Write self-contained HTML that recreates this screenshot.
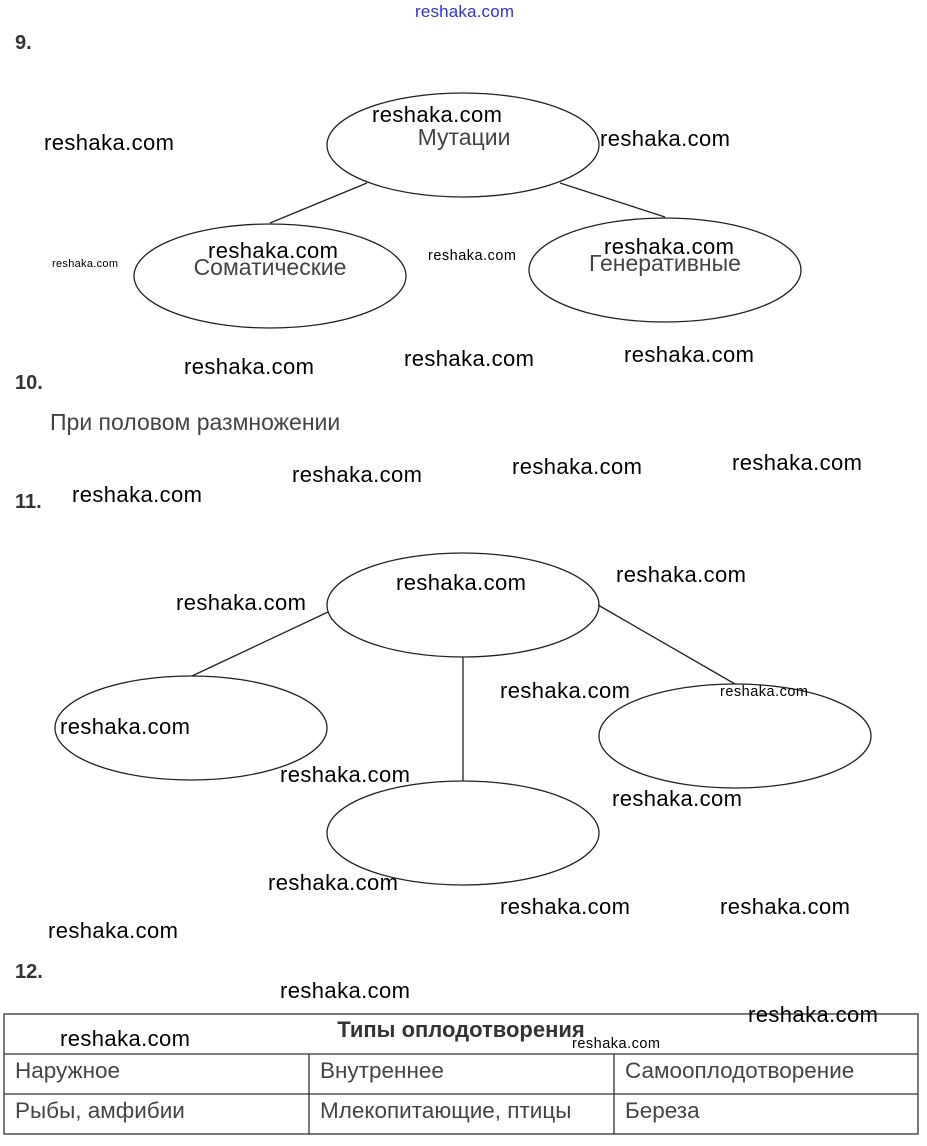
<!DOCTYPE html>
<html><head><meta charset="utf-8"><style>
body{margin:0;background:#fff}
svg{display:block}
.w{font-family:"Liberation Sans",sans-serif;font-size:22px;fill:#000}
.s{font-family:"Liberation Sans",sans-serif;fill:#000}
.g{font-family:"Liberation Sans",sans-serif;font-size:23px;fill:#444}
.t{font-family:"Liberation Sans",sans-serif;font-size:22.5px;fill:#444}
.h{font-family:"Liberation Sans",sans-serif;font-size:20px;font-weight:bold;fill:#333}
</style></head><body>
<svg width="927" height="1146" viewBox="0 0 927 1146" xmlns="http://www.w3.org/2000/svg">
<text x="415" y="17" font-family="Liberation Sans,sans-serif" font-size="17" fill="#3333cc" textLength="99">reshaka.com</text>
<text class="h" x="15" y="49">9.</text>
<text class="h" x="15" y="389">10.</text>
<text class="h" x="15" y="508">11.</text>
<text class="h" x="15" y="978">12.</text>
<g fill="none" stroke="#222" stroke-width="1.3">
<ellipse cx="463" cy="145" rx="136" ry="52"/>
<ellipse cx="270" cy="276" rx="136" ry="52"/>
<ellipse cx="665" cy="270" rx="136" ry="52"/>
<line x1="367" y1="183" x2="270" y2="223"/>
<line x1="560" y1="183" x2="665" y2="217"/>
<ellipse cx="463" cy="605" rx="136" ry="52"/>
<ellipse cx="191" cy="728" rx="136" ry="52"/>
<ellipse cx="735" cy="736" rx="136" ry="52"/>
<ellipse cx="463" cy="833" rx="136" ry="52"/>
<line x1="328" y1="612" x2="192" y2="676"/>
<line x1="598" y1="605" x2="735" y2="684"/>
<line x1="463" y1="657" x2="463" y2="781"/>
</g>
<text class="g" x="464" y="145" text-anchor="middle">Мутации</text>
<text class="g" x="270" y="275" text-anchor="middle">Соматические</text>
<text class="g" x="665" y="271" text-anchor="middle">Генеративные</text>
<text class="g" x="50" y="430">При половом размножении</text>
<g stroke="#333" stroke-width="1.3" fill="none">
<rect x="4" y="1014" width="914" height="120"/>
<line x1="4" y1="1054" x2="918" y2="1054"/>
<line x1="4" y1="1094" x2="918" y2="1094"/>
<line x1="309" y1="1054" x2="309" y2="1134"/>
<line x1="614" y1="1054" x2="614" y2="1134"/>
</g>
<text x="461" y="1037" text-anchor="middle" font-family="Liberation Sans,sans-serif" font-size="22" font-weight="bold" fill="#333">Типы оплодотворения</text>
<text class="t" x="15" y="1078">Наружное</text>
<text class="t" x="320" y="1078">Внутреннее</text>
<text class="t" x="625" y="1078">Самооплодотворение</text>
<text class="t" x="15" y="1118">Рыбы, амфибии</text>
<text class="t" x="320" y="1118">Млекопитающие, птицы</text>
<text class="t" x="625" y="1118">Береза</text>
<g class="w">
<text class="w" x="44" y="150" textLength="130">reshaka.com</text>
<text class="w" x="600" y="146" textLength="130">reshaka.com</text>
<text class="w" x="372" y="122" textLength="130">reshaka.com</text>
<text class="w" x="208" y="258" textLength="130">reshaka.com</text>
<text class="w" x="604" y="254" textLength="130">reshaka.com</text>
<text class="w" x="184" y="374" textLength="130">reshaka.com</text>
<text class="w" x="404" y="366" textLength="130">reshaka.com</text>
<text class="w" x="624" y="362" textLength="130">reshaka.com</text>
<text class="w" x="292" y="482" textLength="130">reshaka.com</text>
<text class="w" x="512" y="474" textLength="130">reshaka.com</text>
<text class="w" x="732" y="470" textLength="130">reshaka.com</text>
<text class="w" x="72" y="502" textLength="130">reshaka.com</text>
<text class="w" x="396" y="590" textLength="130">reshaka.com</text>
<text class="w" x="616" y="582" textLength="130">reshaka.com</text>
<text class="w" x="176" y="610" textLength="130">reshaka.com</text>
<text class="w" x="500" y="698" textLength="130">reshaka.com</text>
<text class="w" x="60" y="734" textLength="130">reshaka.com</text>
<text class="w" x="280" y="782" textLength="130">reshaka.com</text>
<text class="w" x="612" y="806" textLength="130">reshaka.com</text>
<text class="w" x="268" y="890" textLength="130">reshaka.com</text>
<text class="w" x="500" y="914" textLength="130">reshaka.com</text>
<text class="w" x="720" y="914" textLength="130">reshaka.com</text>
<text class="w" x="48" y="938" textLength="130">reshaka.com</text>
<text class="w" x="280" y="998" textLength="130">reshaka.com</text>
<text class="w" x="60" y="1046" textLength="130">reshaka.com</text>
<text class="w" x="748" y="1022" textLength="130">reshaka.com</text>
</g>
<text class="s" x="52" y="267" font-size="11" textLength="66">reshaka.com</text>
<text class="s" x="428" y="260" font-size="14.5" textLength="88">reshaka.com</text>
<text class="s" x="720" y="696" font-size="14.5" textLength="88">reshaka.com</text>
<text class="s" x="572" y="1048" font-size="14.5" textLength="88">reshaka.com</text>
</svg>
</body></html>
